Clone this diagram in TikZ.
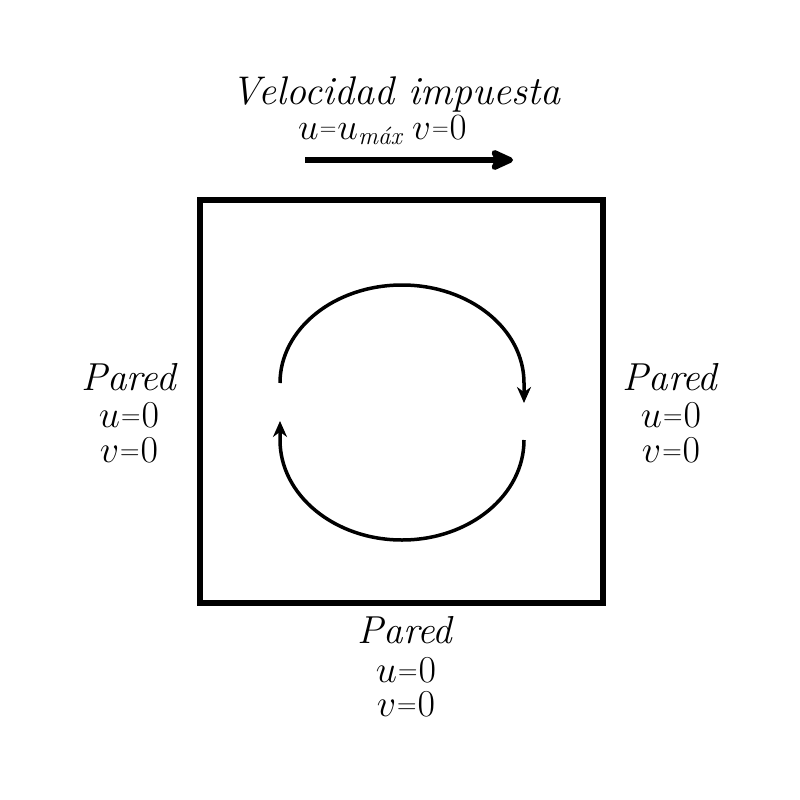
\RequirePackage{fix-cm}
\documentclass[tikz,border=0pt]{standalone}
\usepackage{amsmath}
\usetikzlibrary{arrows.meta}
\newcommand{\tighteq}[2]{\mathord{\kern1pt\raisebox{#2}{\fontsize{#1}{#1}\selectfont$=$}\kern1pt}}
\newcommand{\lbleq}{\tighteq{27}{2.6pt}}
\tikzset{
  wall/.style={line width=6pt},
  flow/.style={line width=3.5pt,-{Stealth[length=16pt,width=14pt]}},
  bigarrow/.style={line width=6pt,-{Stealth[length=28pt,width=25pt,inset=6pt,round]}},
  lbl/.style={anchor=base,inner sep=0pt,font=\fontsize{39}{39}\selectfont},
  mlbl/.style={anchor=base,inner sep=0pt,font=\fontsize{38}{38}\selectfont},
  ttl/.style={anchor=base,inner sep=0pt,font=\fontsize{40}{40}\selectfont\itshape},
}
\begin{document}
\begin{tikzpicture}[x=1pt,y=-1pt]
\useasboundingbox (0,0) rectangle (800,800);
\fill[white] (0,0) rectangle (800,800);
% cavity
\draw[wall] (200,200) rectangle (603,603);
% title
\node[ttl] (title) at (396,104) {Velocidad impuesta};
\node[mlbl,anchor=base west,font=\fontsize{37}{37}\selectfont] (bc) at (298,139) {$u\tighteq{23}{3.5pt}u_{\text{\fontsize{25}{25}\selectfont\itshape máx}}\hspace{10pt}v\tighteq{23}{3.5pt}0$};
\coordinate (a1) at (305,160);
\coordinate (a2) at (513,160);
\draw[bigarrow] (a1) -- (a2);
% vortex
\coordinate (t1) at (280,383);
\coordinate (t2) at (524,403);
\coordinate (b1) at (524,440);
\coordinate (b2) at (280,421);
\draw[flow] (t1) arc[start angle=180,end angle=360,x radius=122,y radius=98] -- (t2);
\draw[flow] (b1) arc[start angle=0,end angle=180,x radius=122,y radius=100] -- (b2);
% labels
\node[lbl] (lp) at (128.5,390) {\itshape Pared};
\node[mlbl] (lu) at (129,427) {$u\lbleq 0$};
\node[mlbl] (lv) at (129,462) {$v\lbleq 0$};
\node[lbl] (rp) at (670,390) {\itshape Pared};
\node[mlbl] (ru) at (671,427) {$u\lbleq 0$};
\node[mlbl] (rv) at (671,462) {$v\lbleq 0$};
\node[lbl] (bp) at (405,643) {\itshape Pared};
\node[mlbl] (bu) at (406,682) {$u\lbleq 0$};
\node[mlbl] (bv) at (406,716) {$v\lbleq 0$};
\end{tikzpicture}
\end{document}
